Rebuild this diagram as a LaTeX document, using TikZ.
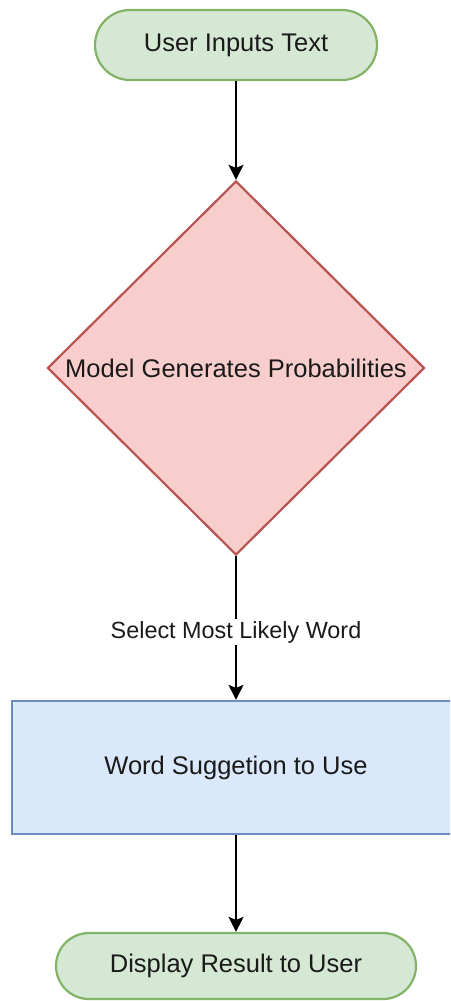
\documentclass[tikz,border=0pt]{standalone}
\usepackage{fontspec}
\setmainfont{Liberation Sans}
\usetikzlibrary{shapes.geometric,shapes.misc,arrows.meta}
\definecolor{gfill}{HTML}{D5E8D4}
\definecolor{gdraw}{HTML}{82B366}
\definecolor{rfill}{HTML}{F8CECC}
\definecolor{rdraw}{HTML}{B85450}
\definecolor{bfill}{HTML}{DAE8FC}
\definecolor{bdraw}{HTML}{6C8EBF}
\definecolor{txt}{HTML}{1A1A1A}
\tikzset{
  nodefont/.style={font=\fontsize{25.5}{30}\selectfont, text=txt},
  terminal/.style={rounded rectangle, draw=gdraw, fill=gfill, line width=2.2pt, inner sep=0pt, nodefont},
  decision/.style={diamond, draw=rdraw, fill=rfill, line width=2.2pt, inner sep=0pt},
  process/.style={rectangle, draw=bdraw, fill=bfill, line width=2.2pt, inner sep=0pt, nodefont},
  flow/.style={draw=black, line width=1.8pt, -{Stealth[length=15pt,width=15pt,inset=3pt]}},
  edgelabel/.style={fill=white, inner sep=2pt, font=\fontsize{23.4}{28}\selectfont, text=txt}
}
\begin{document}
\begin{tikzpicture}[x=1pt,y=-1pt]
\useasboundingbox (0,0) rectangle (450,1001);
\begin{scope}
\clip (0,0) rectangle (450,1001);
\node[terminal, minimum width=282pt, minimum height=70pt] (start) at (236,45) {User Inputs Text};
\node[decision, minimum width=377pt, minimum height=374pt, label={[nodefont]center:Model Generates Probabilities}] (model) at (236,368) {};
\node[process, minimum width=448pt, minimum height=133pt] (suggest) at (236,767.5) {Word Suggetion to Use};
\node[terminal, minimum width=360pt, minimum height=66pt] (display) at (236,966) {Display Result to User};
\draw[flow] (start) -- (model);
\draw[flow] (model) -- node[edgelabel, pos=0.53] {Select Most Likely Word} (suggest);
\draw[flow] (suggest) -- (display);
\end{scope}
\end{tikzpicture}
\end{document}
